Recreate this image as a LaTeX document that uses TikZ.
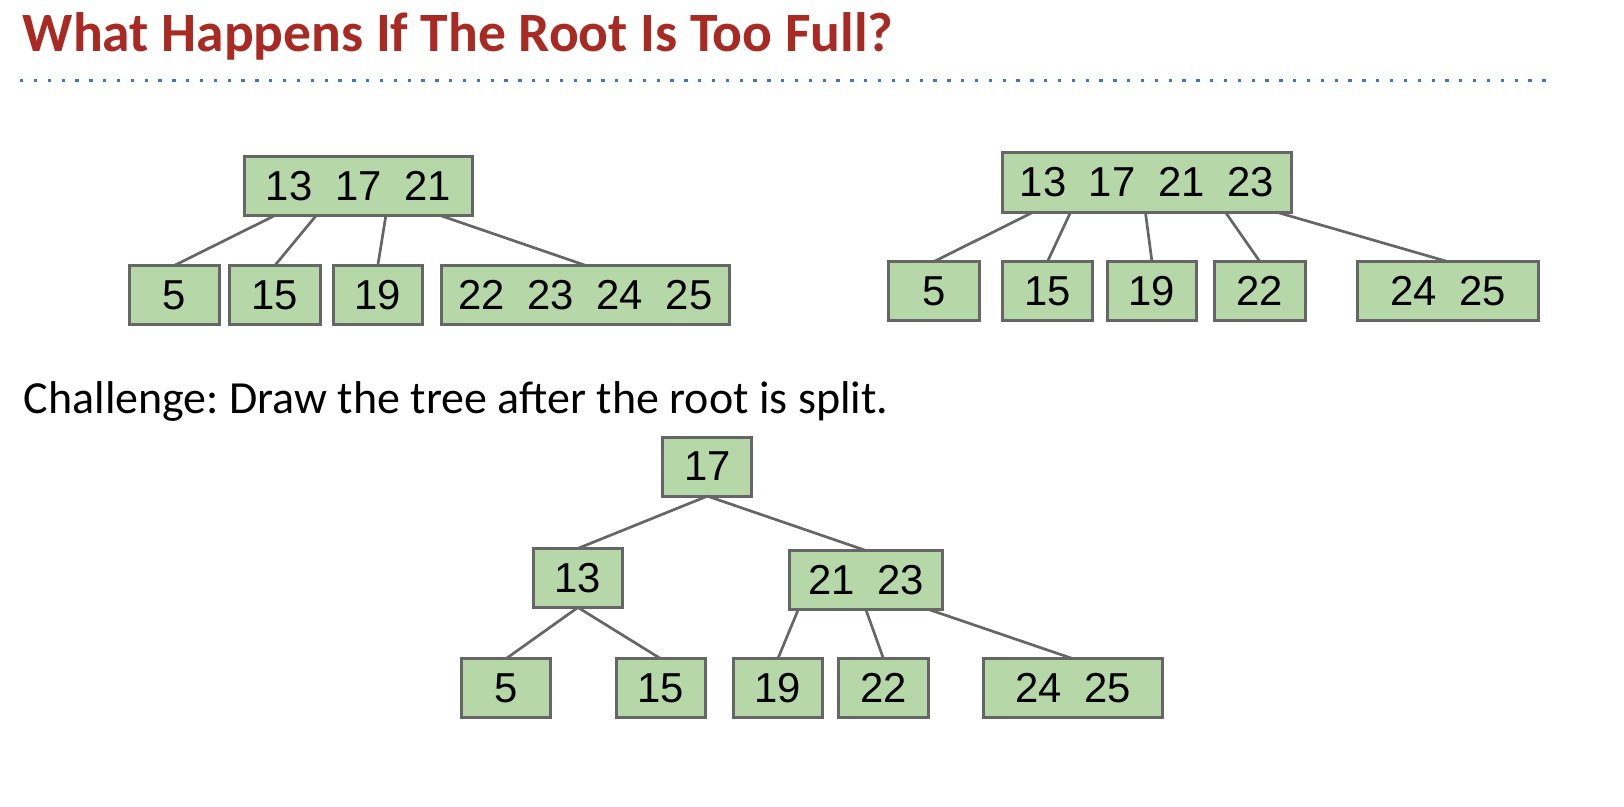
\documentclass[tikz,border=0pt]{standalone}
\usepackage{fontspec}
\setmainfont{Carlito}
\newfontfamily\digitfont{Liberation Sans}
\usetikzlibrary{calc}
\definecolor{titlered}{HTML}{A82A22}
\definecolor{dotblue}{HTML}{3D78C8}
\definecolor{boxgreen}{HTML}{B6D7A8}
\definecolor{boxgray}{HTML}{666666}
\newcommand{\keygap}{\hspace{0.54em}}
\frenchspacing
\begin{document}
\begin{tikzpicture}[x=0.5pt,y=-0.5pt,
  keybox/.style={draw=boxgray, fill=boxgreen, line width=1.45pt, inner sep=0pt, outer sep=0pt,
    minimum height=28.5pt, font=\digitfont\fontsize{20.2}{23}\selectfont},
  link/.style={draw=boxgray, line width=1.3pt},
  plaintext/.style={anchor=base west, inner sep=0pt, outer sep=0pt}]
\useasboundingbox (0,0) rectangle (1568,778.2);

% title and dotted rule
\node[plaintext, text=titlered, font=\bfseries\fontsize{26.8}{31}\selectfont] (title) at (22,50)
  {What Happens If The Root Is Too Full?};
\foreach \i in {0,...,110}
  \fill[dotblue] ({19.4+\i*13.36},76.3) rectangle ++(3.2,3.2);

% tree 1
\node[keybox, minimum width=110.4pt] (t1r) at (346,180) {13\keygap17\keygap21};
\node[keybox, minimum width=43.5pt] (t1a) at (168.5,284.7) {5};
\node[keybox, minimum width=43.5pt] (t1b) at (265.5,284.7) {15};
\node[keybox, minimum width=43pt] (t1c) at (364.8,284.7) {19};
\node[keybox, minimum width=138.9pt] (t1d) at (565.3,284.7) {22\keygap23\keygap24\keygap25};
\draw[link] ($(t1r.south west)!0.131!(t1r.south east)$) -- (t1a.north);
\draw[link] ($(t1r.south west)!0.314!(t1r.south east)$) -- (t1b.north);
\draw[link] ($(t1r.south west)!0.620!(t1r.south east)$) -- (t1c.north);
\draw[link] ($(t1r.south west)!0.864!(t1r.south east)$) -- (t1d.north);

% tree 2
\node[keybox, minimum width=139.25pt] (t2r) at (1107.25,176.2) {13\keygap17\keygap21\keygap23};
\node[keybox, minimum width=43.8pt] (t2a) at (901.5,281.15) {5};
\node[keybox, minimum width=43.3pt] (t2b) at (1011.3,281.15) {15};
\node[keybox, minimum width=43.3pt] (t2c) at (1112.25,281.15) {19};
\node[keybox, minimum width=43.5pt] (t2d) at (1216.5,281.15) {22};
\node[keybox, minimum width=87pt] (t2e) at (1398,281.15) {24\keygap25};
\draw[link] ($(t2r.south west)!0.107!(t2r.south east)$) -- (t2a.north);
\draw[link] ($(t2r.south west)!0.236!(t2r.south east)$) -- (t2b.north);
\draw[link] ($(t2r.south west)!0.495!(t2r.south east)$) -- (t2c.north);
\draw[link] ($(t2r.south west)!0.772!(t2r.south east)$) -- (t2d.north);
\draw[link] ($(t2r.south west)!0.948!(t2r.south east)$) -- (t2e.north);

% challenge text
\node[plaintext, font=\fontsize{22.2}{26}\selectfont] (challenge) at (23,399)
  {Challenge: Draw the tree after the root is split.};

% tree 3
\node[keybox, minimum width=43pt] (t3r) at (683,450.5) {17};
\node[keybox, minimum width=43pt] (t3l) at (558,558) {13};
\node[keybox, minimum width=74pt] (t3m) at (836,560) {21\keygap23};
\node[keybox, minimum width=43pt] (t3a) at (488.5,664.5) {5};
\node[keybox, minimum width=43pt] (t3b) at (638,664.5) {15};
\node[keybox, minimum width=43pt] (t3c) at (751,664.5) {19};
\node[keybox, minimum width=43pt] (t3d) at (853,664.5) {22};
\node[keybox, minimum width=86.5pt] (t3e) at (1036,664.5) {24\keygap25};
\draw[link] (t3r.south) -- (t3l.north);
\draw[link] (t3r.south) -- (t3m.north);
\draw[link] (t3l.south) -- (t3a.north);
\draw[link] (t3l.south) -- (t3b.north);
\draw[link] ($(t3m.south west)!0.059!(t3m.south east)$) -- (t3c.north);
\draw[link] ($(t3m.south west)!0.50!(t3m.south east)$) -- (t3d.north);
\draw[link] ($(t3m.south west)!0.911!(t3m.south east)$) -- (t3e.north);
\end{tikzpicture}
\end{document}
